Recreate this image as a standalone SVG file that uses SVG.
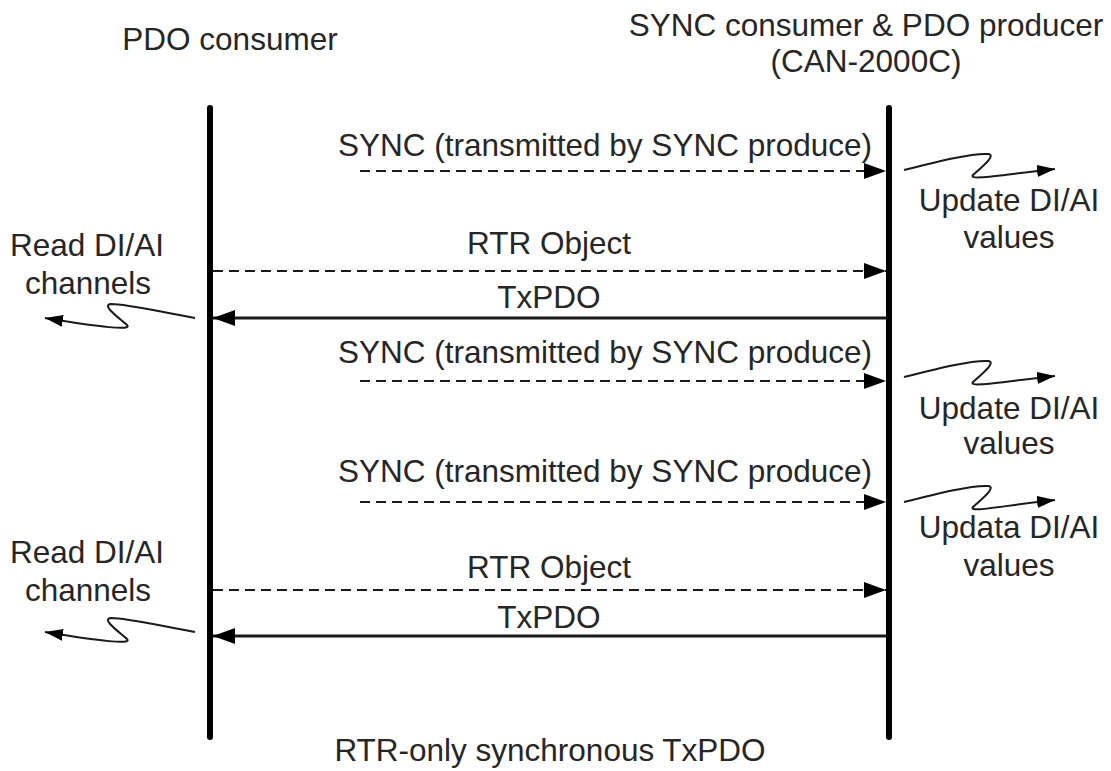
<svg xmlns="http://www.w3.org/2000/svg" width="1111" height="771" viewBox="0 0 1111 771">
<style>
text{font-family:"Liberation Sans",Arial,sans-serif;font-size:31.5px;fill:#262626;text-anchor:middle}
.life{stroke:#000;stroke-width:6;stroke-linecap:round;fill:none}
.dash{stroke:#1a1a1a;stroke-width:2;stroke-dasharray:10 6;fill:none}
.solid{stroke:#1a1a1a;stroke-width:3;fill:none}
.sq{stroke:#1a1a1a;stroke-width:2;fill:none}
</style>
<defs>
<marker id="ah" markerUnits="userSpaceOnUse" markerWidth="24" markerHeight="18" refX="22" refY="8" orient="auto">
<path d="M0,0 L22,8 L0,16 Z" fill="#000"/>
</marker>
<marker id="sh" markerUnits="userSpaceOnUse" markerWidth="20" markerHeight="14" refX="18" refY="6" orient="auto">
<path d="M0,0 L18,6 L0,12 Z" fill="#000"/>
</marker>
</defs>
<g id="consumer">
<line class="life" x1="210" y1="108" x2="210" y2="737"/>
<text x="230" y="50">PDO consumer</text>
</g>
<g id="producer">
<line class="life" x1="889" y1="108" x2="889" y2="737"/>
<text x="866" y="36">SYNC consumer &amp; PDO producer</text>
<text x="866" y="72">(CAN-2000C)</text>
</g>
<g id="connectors">
<line class="dash" x1="360" y1="171" x2="886" y2="171" marker-end="url(#ah)"/>
<line class="dash" x1="213" y1="271" x2="886" y2="271" marker-end="url(#ah)"/>
<line class="solid" x1="886" y1="318" x2="213" y2="318" marker-end="url(#ah)"/>
<line class="dash" x1="360" y1="381" x2="886" y2="381" marker-end="url(#ah)"/>
<line class="dash" x1="360" y1="502" x2="886" y2="502" marker-end="url(#ah)"/>
<line class="dash" x1="213" y1="590" x2="886" y2="590" marker-end="url(#ah)"/>
<line class="solid" x1="886" y1="636" x2="213" y2="636" marker-end="url(#ah)"/>
<path class="sq" d="M904,170 C940,161 972,153 988,154 C998,155 978,170 973,175 C968,181 1000,175 1055,169" marker-end="url(#sh)"/>
<path class="sq" d="M904,377 C940,368 972,360 988,361 C998,362 978,377 973,382 C968,388 1000,382 1055,376" marker-end="url(#sh)"/>
<path class="sq" d="M904,502 C940,493 972,485 988,486 C998,487 978,502 973,507 C968,513 1000,506 1055,500" marker-end="url(#sh)"/>
<path class="sq" d="M195,318 C160,312 128,304 111,304 C100,305 122,320 127,325 C133,331 100,327 45,318" marker-end="url(#sh)"/>
<path class="sq" d="M195,632 C160,626 128,618 111,618 C100,619 122,634 127,639 C133,645 100,641 45,632" marker-end="url(#sh)"/>
</g>
<g id="labels">
<text x="605" y="156">SYNC (transmitted by SYNC produce)</text>
<text x="549" y="254">RTR Object</text>
<text x="549" y="308">TxPDO</text>
<text x="605" y="363">SYNC (transmitted by SYNC produce)</text>
<text x="605" y="482">SYNC (transmitted by SYNC produce)</text>
<text x="549" y="578">RTR Object</text>
<text x="549" y="628">TxPDO</text>
<text x="1009" y="211">Update DI/AI</text>
<text x="1009" y="248">values</text>
<text x="1009" y="419">Update DI/AI</text>
<text x="1009" y="454">values</text>
<text x="1009" y="538">Updata DI/AI</text>
<text x="1009" y="576">values</text>
<text x="87" y="256">Read DI/AI</text>
<text x="88" y="294">channels</text>
<text x="87" y="563">Read DI/AI</text>
<text x="88" y="601">channels</text>
<text x="550" y="761">RTR-only synchronous TxPDO</text>
</g>
</svg>
